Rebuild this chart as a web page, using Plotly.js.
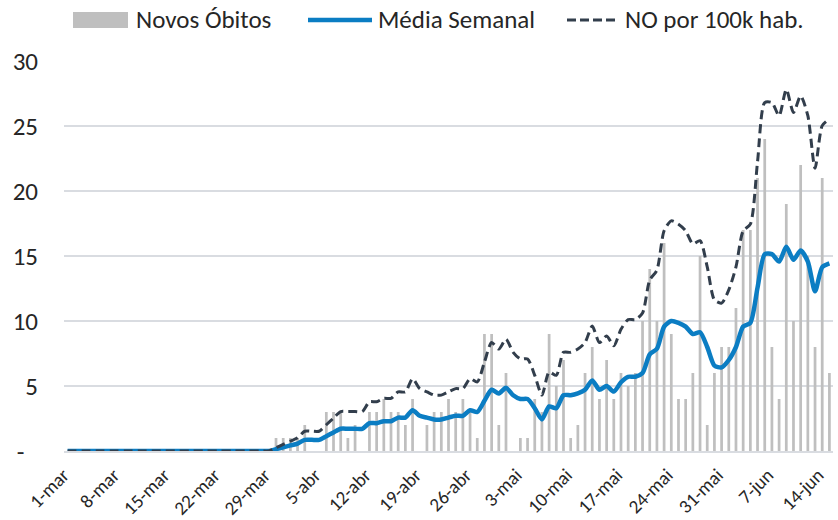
<!DOCTYPE html>
<html>
<head>
<meta charset="utf-8">
<script src="https://cdn.plot.ly/plotly-3.0.1.min.js"></script>
<style>html,body{margin:0;padding:0;background:#fff;}#chart{width:838px;height:520px;}</style>
</head>
<body>
<div id="chart"></div>
<script>
// Categories: days from 1-mar to 15-jun
const meses = [["mar", 31], ["abr", 30], ["mai", 31], ["jun", 15]];
const dias = [];
meses.forEach(function (m) { for (let d = 1; d <= m[1]; d++) dias.push(d + "-" + m[0]); });

// Tick labels (every 7 days)
const rotulosX = ["1-mar","8-mar","15-mar","22-mar","29-mar","5-abr","12-abr","19-abr","26-abr","3-mai","10-mai","17-mai","24-mai","31-mai","7-jun","14-jun"];
const valoresY = [0, 5, 10, 15, 20, 25, 30];
const rotulosY = ["-\u2007", "5", "10", "15", "20", "25", "30"];

// Novos Óbitos (daily new deaths)
const novosObitos = [
  0,0,0,0,0,0,0,0,0,0,0,0,0,0,0,0,0,0,0,0,0,0,0,0,0,0,0,0,0,
  1,1,1,1,2,0,0,3,3,3,1,2,0,3,3,4,3,3,2,4,0,2,3,3,4,3,4,3,1,9,9,2,6,0,1,1,4,3,9,5,7,1,2,6,8,4,7,4,
  6,5,6,10,14,10,16,9,4,4,6,15,2,6,8,8,11,17,17,21,24,8,4,19,10,22,15,8,21,6
];

// Média Semanal (weekly average)
const mediaSemanal = [
  0,0,0,0,0,0,0,0,0,0,0,0,0,0,0,0,0,0,0,0,0,0,0,0,0,0,0,0,0,
  0.14,0.29,0.43,0.57,0.86,0.86,0.86,1.14,1.43,1.71,1.71,1.71,1.71,2.14,2.14,2.29,2.29,2.57,2.57,3.14,2.71,2.57,
  2.43,2.43,2.57,2.71,2.71,3.14,3.0,3.86,4.71,4.43,4.86,4.29,4.0,4.0,3.29,2.43,3.43,3.29,4.29,4.29,4.43,4.71,
  5.43,4.71,5.0,4.57,5.29,5.71,5.71,6.0,7.43,7.86,9.57,10.0,9.86,9.57,9.0,9.14,8.0,6.57,6.43,7.0,8.0,9.57,9.86,
  12.57,15.14,15.14,14.57,15.71,14.71,15.43,14.57,12.29,14.14,14.43
];

// NO por 100k hab.
const noPor100k = [
  0,0,0,0,0,0,0,0,0,0,0,0,0,0,0,0,0,0,0,0,0,0,0,0,0,0,0,0,0,
  0.25,0.51,0.76,1.01,1.52,1.52,1.52,2.02,2.53,3.03,3.03,3.03,3.03,3.79,3.79,4.05,4.05,4.55,4.55,5.56,4.8,4.55,
  4.3,4.3,4.55,4.8,4.8,5.56,5.31,6.83,8.34,7.84,8.6,7.59,7.08,7.08,5.82,4.3,6.07,5.82,7.59,7.59,7.84,8.34,
  9.61,8.34,8.85,8.09,9.36,10.11,10.11,10.62,13.15,13.91,16.94,17.7,17.45,16.94,15.93,16.18,14.16,11.63,11.38,12.39,14.16,16.94,17.45,
  22.25,26.8,26.8,25.79,27.81,26.04,27.31,25.79,21.75,25.03,25.54
];

const FONT = "Carlito, Calibri, Lato, 'Liberation Sans', sans-serif";
const COR_BARRA = "#bfbfbf", COR_AZUL = "#0b7dc3", COR_TRACO = "#323e4c";

const L = 64, T = 61, W = 769, H = 390;
function px(x) { return (x - L) / W; }
function py(y) { return (T + H - y) / H; }

const traces = [
  { type: "bar", x: dias, y: novosObitos, name: "Novos Óbitos", marker: { color: COR_BARRA }, hoverinfo: "x+y" },
  { type: "scatter", mode: "lines", x: dias, y: mediaSemanal, name: "Média Semanal",
    line: { color: COR_AZUL, width: 4.5, shape: "spline", smoothing: 0.7 } },
  { type: "scatter", mode: "lines", x: dias, y: noPor100k, name: "NO por 100k hab.",
    line: { color: COR_TRACO, width: 3, dash: "9px,5px", shape: "spline", smoothing: 0.7 } }
];

const layout = {
  width: 838, height: 520,
  margin: { l: L, r: 838 - L - W, t: T, b: 520 - T - H },
  paper_bgcolor: "#fff", plot_bgcolor: "#fff",
  showlegend: false,
  bargap: 0.62,
  font: { family: FONT, color: "#262626" },
  xaxis: {
    type: "category",
    tickmode: "array", tickvals: rotulosX, ticktext: rotulosX,
    tickangle: -45, tickfont: { size: 19, family: FONT, color: "#262626" },
    ticklabelshift: -4, ticklabelstandoff: 4,
    showgrid: false, showline: true, linecolor: "#d9dce1", linewidth: 1.5,
    ticks: "", zeroline: false, fixedrange: true
  },
  yaxis: {
    range: [0, 30], tickmode: "array", tickvals: valoresY, ticktext: rotulosY,
    tickfont: { size: 25, family: FONT, color: "#262626" },
    showgrid: true, gridcolor: "#d9dce1", gridwidth: 1.5,
    zeroline: false, showline: false,
    ticks: "outside", ticklen: 20, tickcolor: "rgba(0,0,0,0)", fixedrange: true
  },
  shapes: [
    { type: "rect", xref: "paper", yref: "paper", x0: px(73), x1: px(128), y0: py(28), y1: py(12),
      fillcolor: COR_BARRA, line: { width: 0 } },
    { type: "line", xref: "paper", yref: "paper", x0: px(308), x1: px(372), y0: py(20), y1: py(20),
      line: { color: COR_AZUL, width: 4.5 } },
    { type: "line", xref: "paper", yref: "paper", x0: px(567), x1: px(619), y0: py(20), y1: py(20),
      line: { color: COR_TRACO, width: 3, dash: "9px,4px" } }
  ],
  annotations: [
    { text: "Novos Óbitos", xref: "paper", yref: "paper", x: px(134), y: py(20), xanchor: "left", yanchor: "middle",
      showarrow: false, font: { size: 25, family: FONT, color: "#262626" } },
    { text: "Média Semanal", xref: "paper", yref: "paper", x: px(376), y: py(20), xanchor: "left", yanchor: "middle",
      showarrow: false, font: { size: 25, family: FONT, color: "#262626" } },
    { text: "NO por 100k hab.", xref: "paper", yref: "paper", x: px(623), y: py(20), xanchor: "left", yanchor: "middle",
      showarrow: false, font: { size: 25, family: FONT, color: "#262626" } }
  ]
};

Plotly.newPlot("chart", traces, layout, { displayModeBar: false, staticPlot: true });
</script>
</body>
</html>
